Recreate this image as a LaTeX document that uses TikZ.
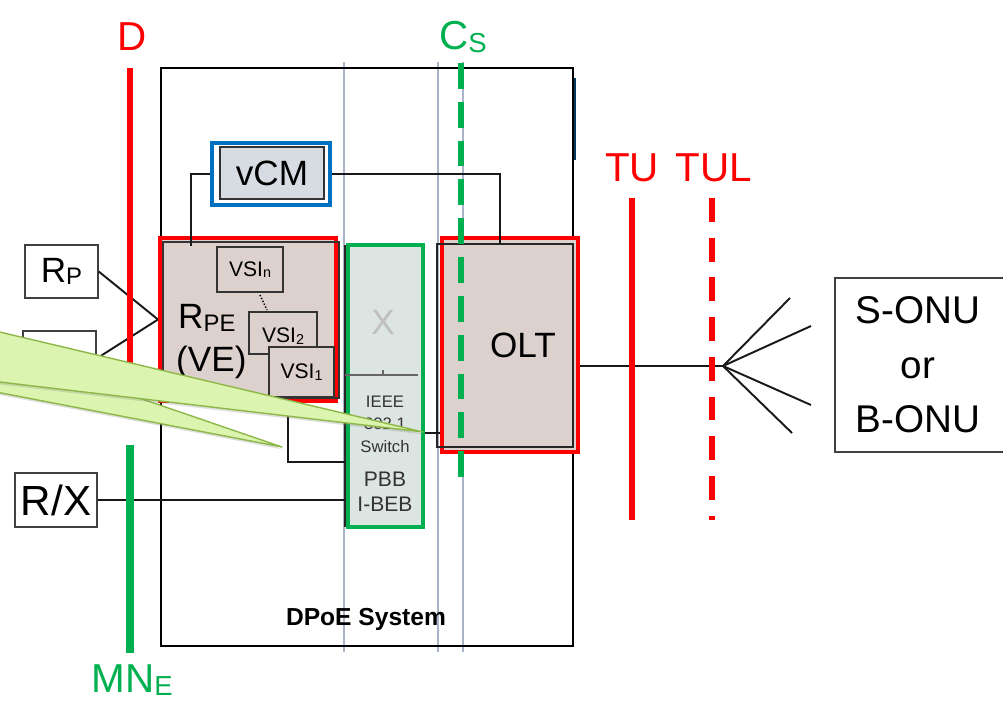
\documentclass[tikz,border=0pt]{standalone}
\usepackage{fontspec}
\setmainfont{Liberation Sans}
\usetikzlibrary{positioning, fit, calc, shadows}

\definecolor{refred}{HTML}{FF0000}
\definecolor{refgreen}{HTML}{00B050}
\definecolor{vcmblue}{HTML}{0070C0}
\definecolor{rpefill}{HTML}{DDD1CD}
\definecolor{swfill}{HTML}{DDE5E2}
\definecolor{vcmfill}{HTML}{D6DCE2}
\definecolor{gridblue}{HTML}{A9B4C9}
\definecolor{callfill}{HTML}{DBF5B0}
\definecolor{calledge}{HTML}{8DB848}

\newcommand{\subtxt}[1]{\raisebox{-0.08em}{\scalebox{0.68}{#1}}}

\begin{document}
\begin{tikzpicture}[x=0.02cm, y=-0.02cm,
  portbox/.style={draw=black!75, line width=0.8pt, fill=white, inner sep=0pt},
  framebox/.style={line width=2.3pt, inner sep=0pt},
  vsibox/.style={draw=black!80, line width=0.8pt, fill=rpefill, inner sep=0pt},
  vsitext/.style={font=\fontsize{12}{14}\selectfont},
  conn/.style={line width=1.1pt, black!90},
  gridline/.style={gridblue, line width=0.8pt},
  reflabel/.style={font=\fontsize{23}{26}\selectfont},
  biglabel/.style={font=\fontsize{20}{24}\selectfont},
  refline/.style={line width=3.4pt}]
\useasboundingbox (0,0) rectangle (1003,700);
\clip (0,0) rectangle (1003,700);

% Thin guide lines behind everything
\foreach \gx in {344, 438, 463}
  \draw[gridline] (\gx,62) -- (\gx,652);

% DPoE system frame
\draw[line width=1.4pt] (161,68) rectangle (573,646);
\draw[vcmblue!50!black, line width=0.6pt] (575,78) -- (575,160);
\node[font=\bfseries\fontsize{14}{16}\selectfont] (dpoe) at (366,619) {DPoE System};

% vCM
\node[framebox, draw=vcmblue, fit={(212,143) (330,205)}] (vcmframe) {};
\node[draw=black!80, fill=vcmfill, line width=0.8pt, inner sep=0pt,
      fit={(220,147) (324,199)}] (vcm) {};
\node[biglabel] (vcmname) at (vcm.center) {vCM};

% R_PE (VE) with its VSIs
\node[framebox, draw=refred, fill=rpefill, fit={(160,238) (336,401)}] (rpe) {};
\draw[black!80, line width=0.8pt] (163,242) rectangle (339,398);
\node[biglabel, anchor=west] (rpename) at (172,318) {R\subtxt{PE}};
\node[biglabel, anchor=west] (vename) at (170,362) {(VE)};
\node[vsibox, fit={(217,247) (283,292)}] (vsin) {};
\node[vsitext] at (vsin.center) {VSI\subtxt{n}};
\draw[densely dotted, line width=0.8pt] (260,295) -- (267,310);
\node[vsibox, fit={(249,312) (317,354)}] (vsitwo) {};
\node[vsitext] at ($(vsitwo.center)+(0,3)$) {VSI\subtxt{2}};
\node[vsibox, fit={(269,347) (334,397)}] (vsione) {};
\node[vsitext] at (vsione.center) {VSI\subtxt{1}};

% IEEE 802.1 switch
\node[framebox, draw=refgreen, fill=swfill, fit={(348,245) (423,527)}] (sw) {};
\draw[black!85, line width=0.8pt] (345,245) -- (345,527);
\draw[black!60, line width=0.7pt] (345,375) -- (418,375) (383,370) -- (383,375);
\node[biglabel, text=black!25] (swx) at (383,322) {X};
\node[font=\fontsize{9.5}{12.8}\selectfont, align=center, text=black!80] (swname) at (385,424) {IEEE\\802.1\\Switch};
\node[font=\fontsize{12}{14.2}\selectfont, align=center, text=black!80] (pbb) at (385,492) {PBB\\I-BEB};

% OLT
\node[framebox, draw=refred, fill=rpefill, fit={(442,238) (578,452)}] (olt) {};
\draw[black!85, line width=0.9pt] (437,244) rectangle (573,447);
\node[biglabel] (oltname) at (523,345) {OLT};

% Ports outside the system
\node[portbox, fit={(25,245) (98,298)}] (rp) {};
\node[biglabel] at (rp.center) {R\subtxt{P}};
\node[portbox, fit={(23,331) (96,386)}] (rc) {};
\node[portbox, fit={(15,473) (97,527)}] (rx) {};
\node[font=\fontsize{24}{26}\selectfont] at (rx.center) {R/X};
\node[portbox, fit={(835,278) (1010,452)}] (onu) {};
\node[font=\fontsize{22}{31}\selectfont, align=center] at (918,365) {S-ONU\\or\\B-ONU};

% Connectors
\coordinate (vcmdrop) at ($(rpe.north west)+(33,10)$);
\coordinate (oltdrop) at (500,244);
\coordinate (fan) at (723,366);
\draw[conn] (rp.east) -- (rpe.west);
\draw[conn] (rc.east) -- (rpe.west);
\draw[conn] (vcmframe.west) -| (vcmdrop);
\draw[conn] (vcmframe.east) -| (oltdrop);
\draw[conn] ($(rpe.south east)+(-50,-3)$) |- (sw.west |- 0,462);
\draw[conn] (rx.east) -- (rx.east -| sw.west);
\draw[conn] (sw.east |- 0,433) -- (olt.west |- 0,433);
\draw[conn] (olt.east |- fan) -- (fan);
\foreach \fx/\fy in {790/298, 811/326, 811/405, 792/433}
  \draw[conn] (fan) -- (\fx,\fy);

% Reference points
\draw[refline, refred] (130,68) -- (130,392);
\node[reflabel, text=refred] (dlabel) at (132,37) {D};
\draw[refline, refgreen, line width=4pt] (130,445) -- (130,653);
\node[reflabel, text=refgreen] (mnlabel) at (132,680) {MN\subtxt{E}};
\draw[refline, refgreen, dash pattern=on 14.7pt off 7.4pt] (461,63) -- (461,488);
\node[reflabel, text=refgreen] (cslabel) at (463,37) {C\subtxt{S}};
\draw[refline, refred] (632,198) -- (632,520);
\node[reflabel, text=refred] (tulabel) at (632,168) {TU};
\draw[refline, refred, dash pattern=on 13.6pt off 9pt] (712,198) -- (712,520);
\node[reflabel, text=refred] (tullabel) at (714,168) {TUL};

% Callout pointers coming in from the left
\draw[calledge, fill=callfill, line width=0.8pt, line join=round,
      drop shadow={opacity=0.25, shadow xshift=1pt, shadow yshift=-1.5pt}]
  (-30,340) -- (282,447) -- (-30,387) -- cycle;
\draw[calledge, fill=callfill, line width=0.8pt, line join=round,
      drop shadow={opacity=0.25, shadow xshift=1pt, shadow yshift=-1.5pt}]
  (-30,325) -- (423,432) -- (-30,378.5) -- cycle;
\end{tikzpicture}
\end{document}
